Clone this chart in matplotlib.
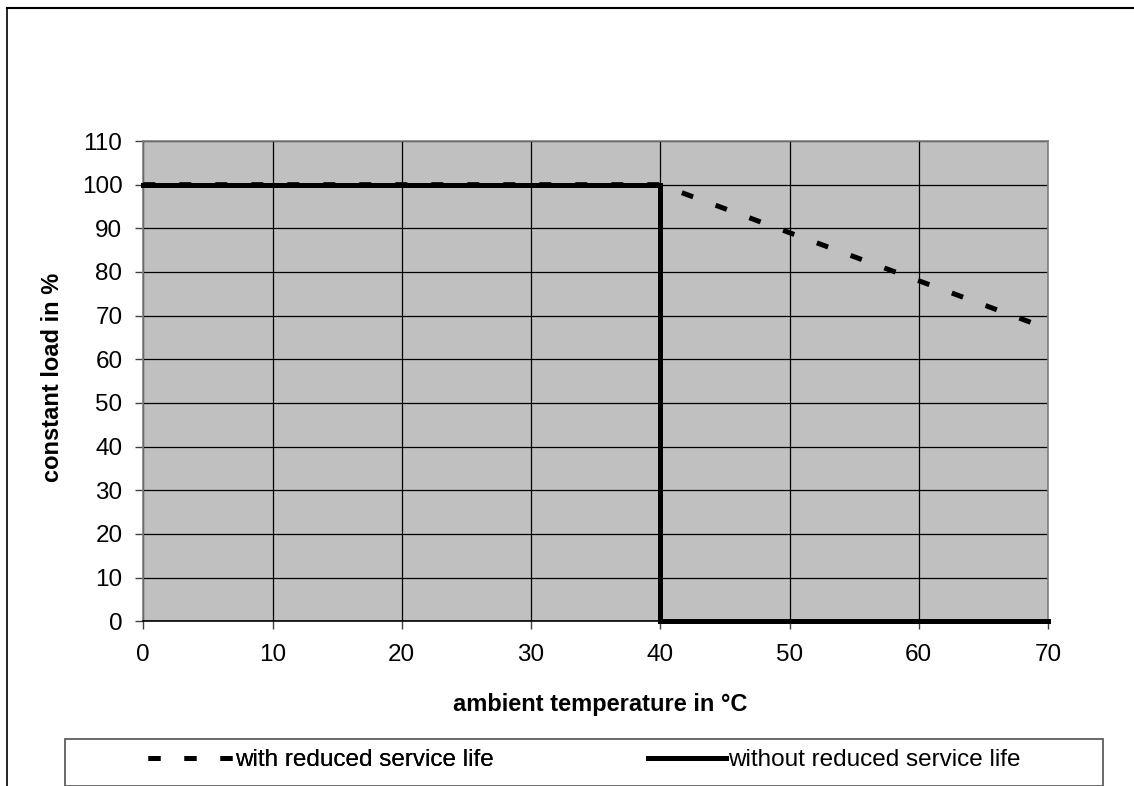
import matplotlib
matplotlib.use("Agg")
import matplotlib.pyplot as plt
from matplotlib.lines import Line2D
from matplotlib.patches import Rectangle

plt.rcParams['font.family'] = ['Liberation Sans', 'DejaVu Sans']

# data
temp_reduced = [0, 40, 70]
load_reduced = [100, 100, 67]
temp_normal = [0, 40, 40, 70]
load_normal = [100, 100, 0, 0]
x_ticks = [0, 10, 20, 30, 40, 50, 60, 70]
y_ticks = [0, 10, 20, 30, 40, 50, 60, 70, 80, 90, 100, 110]
label_reduced = "with reduced service life"
label_normal = "without reduced service life"

W, H = 1134, 786
fig = plt.figure(figsize=(W / 100, H / 100), dpi=100)

def fx(px):
    return px / W

def fy(py):
    return 1 - py / H

ax = fig.add_axes([fx(143.3), fy(621.3), fx(1048) - fx(143.3), fy(141) - fy(621.3)])
ax.set_facecolor('#C0C0C0')
ax.set_xlim(0, 70)
ax.set_ylim(0, 110)
ax.set_xticks(x_ticks)
ax.set_yticks(y_ticks)
ax.grid(True, color='black', linewidth=0.9)
ax.set_axisbelow(True)
for s in ax.spines.values():
    s.set_color('#808080')
    s.set_linewidth(1.2)
ax.spines['bottom'].set_color('black')
ax.tick_params(axis='both', direction='out', length=6, width=1, color='#404040',
               labelsize=17.5)
ax.tick_params(axis='y', pad=9)
ax.tick_params(axis='x', pad=10)

l1, = ax.plot(temp_reduced, load_reduced, color='black', linewidth=3.6,
              linestyle=(0, (2.4, 4.8)), dash_capstyle='butt', clip_on=False,
              label=label_reduced, zorder=3)
l2, = ax.plot(temp_normal, load_normal, color='black', linewidth=3.6,
              solid_capstyle='projecting', solid_joinstyle='miter', clip_on=False,
              label=label_normal, zorder=4)

fig.text(fx(600), fy(704), "ambient temperature in °C", ha='center', va='center',
         fontsize=17, fontweight='bold')
fig.text(fx(53), fy(377), "constant load in %", ha='center', va='center',
         fontsize=17, fontweight='bold', rotation=90)

# outer border
fig.add_artist(Line2D([fx(7), fx(7)], [fy(8), 0], color='black', linewidth=1.2,
                      transform=fig.transFigure))
fig.add_artist(Line2D([fx(7), 1], [fy(8), fy(8)], color='black', linewidth=1.5,
                      transform=fig.transFigure))

# legend box
fig.add_artist(Rectangle((fx(65), 0), fx(1103) - fx(65), fy(739), fill=False,
                         edgecolor='#505050', linewidth=1.2, transform=fig.transFigure))

leg1 = fig.legend(handles=[l1], loc='center left', bbox_to_anchor=(fx(148), fy(760)),
                  frameon=False, fontsize=17.5, handlelength=3.5, handletextpad=0.08,
                  borderpad=0, borderaxespad=0)
fig.add_artist(leg1)
leg2 = fig.legend(handles=[l2], loc='center left', bbox_to_anchor=(fx(648), fy(760)),
                  frameon=False, fontsize=17.5, handlelength=3.2, handletextpad=0.08,
                  borderpad=0, borderaxespad=0)

fig.savefig('out.png', dpi=100)
